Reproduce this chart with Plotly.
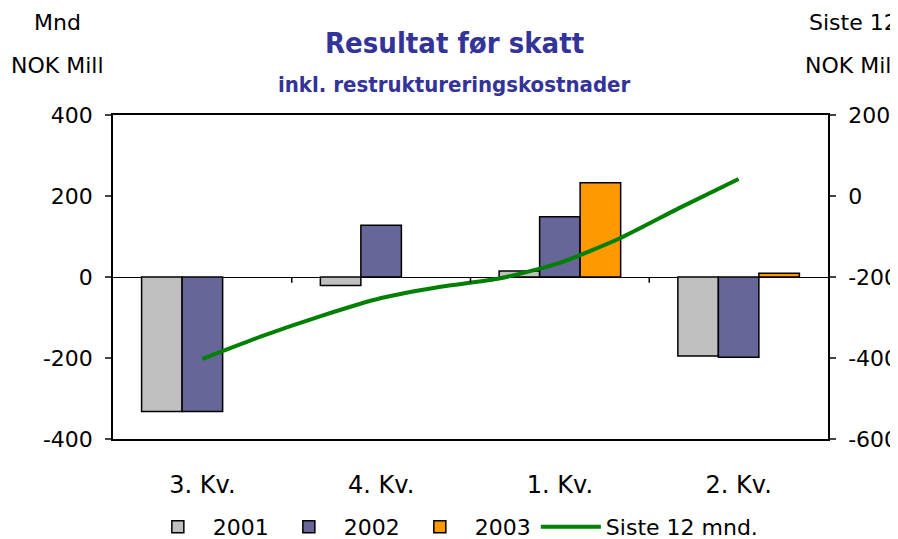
import plotly.graph_objects as go

quarters = ["3. Kv.", "4. Kv.", "1. Kv.", "2. Kv."]
vals_2001 = [-332, -21, 15, -195]
vals_2002 = [-332, 128, 149, -198]
vals_2003 = [None, None, 233, 9]

# rolling 12 months, one point per month from 3. Kv. to 2. Kv.
months = [0, 1, 2, 3, 4, 5, 6, 7, 8, 9]
siste_12 = [-402, -346, -296, -252, -224, -203, -165, -105, -30, 42]

left_ticks = [-400, -200, 0, 200, 400]
right_ticks = [-600, -400, -200, 0, 200]

FONT = "DejaVu Sans, sans-serif"
TITLE_FONT = "DejaVu Sans Condensed, DejaVu Sans, sans-serif"
TITLE_COLOR = "#333399"


def hyphen_labels(vals):
    # the original uses a plain hyphen for negatives
    return [str(v) for v in vals]


fig = go.Figure()
for name, vals, color in [
    ("2001", vals_2001, "#C0C0C0"),
    ("2002", vals_2002, "#666699"),
    ("2003", vals_2003, "#FF9900"),
]:
    fig.add_trace(
        go.Bar(
            x=quarters,
            y=vals,
            name=name,
            marker=dict(color=color, line=dict(color="black", width=1.5)),
        )
    )

fig.add_trace(
    go.Scatter(
        x=months,
        y=siste_12,
        name="Siste 12 mnd.",
        mode="lines",
        line=dict(color="#008000", width=4, shape="spline", smoothing=0.6),
        xaxis="x2",
        yaxis="y2",
    )
)

# small category separators on the zero line
for xb in [0.5, 1.5, 2.5]:
    fig.add_shape(
        type="line", xref="x", yref="y", x0=xb, x1=xb, y0=0, y1=-14,
        line=dict(color="black", width=1.5),
    )

axis_line = dict(showline=True, linecolor="black", linewidth=1.5, showgrid=False)

# the page adds an 8px body margin, so the margins are trimmed by that much
fig.update_layout(
    width=898,
    height=539,
    paper_bgcolor="white",
    plot_bgcolor="white",
    font=dict(family=FONT, color="black", size=22),
    margin=dict(l=105, r=78, t=107, b=108, autoexpand=False),
    barmode="group",
    bargap=0.32,
    bargroupgap=0,
    showlegend=True,
    legend=dict(
        orientation="h",
        x=0.476,
        xanchor="center",
        yref="container",
        y=0.037,
        yanchor="middle",
        font=dict(size=22),
        itemwidth=60,
        traceorder="normal",
    ),
    xaxis=dict(
        type="category",
        **axis_line,
        mirror=True,
        ticks="",
        zeroline=False,
        automargin=False,
        ticklabelstandoff=23,
        tickfont=dict(size=24),
    ),
    xaxis2=dict(
        overlaying="x",
        range=[-1.5, 10.5],
        visible=False,
    ),
    yaxis=dict(
        range=[-400, 400],
        tickvals=left_ticks,
        ticktext=hyphen_labels(left_ticks),
        **axis_line,
        ticks="outside",
        ticklen=6,
        tickwidth=1.5,
        zeroline=True,
        zerolinecolor="black",
        zerolinewidth=1,
        automargin=False,
        ticklabelstandoff=8,
        tickfont=dict(size=22),
    ),
    yaxis2=dict(
        range=[-600, 200],
        tickvals=right_ticks,
        ticktext=hyphen_labels(right_ticks),
        overlaying="y",
        side="right",
        **axis_line,
        ticks="outside",
        ticklen=6,
        tickwidth=1.5,
        zeroline=False,
        automargin=False,
        ticklabelstandoff=8,
        tickfont=dict(size=22),
    ),
    annotations=[
        dict(
            text="<b>Resultat før skatt</b>",
            xref="paper", yref="paper", x=0.477, y=1.223,
            xanchor="center", yanchor="middle", showarrow=False,
            font=dict(family=TITLE_FONT, size=29, color=TITLE_COLOR),
        ),
        dict(
            text="<b>inkl. restruktureringskostnader</b>",
            xref="paper", yref="paper", x=0.477, y=1.093,
            xanchor="center", yanchor="middle", showarrow=False,
            font=dict(family=TITLE_FONT, size=22, color=TITLE_COLOR),
        ),
        dict(
            text="Mnd", xref="paper", yref="paper", x=-0.077, y=1.284,
            xanchor="center", yanchor="middle", showarrow=False,
        ),
        dict(
            text="NOK Mill", xref="paper", yref="paper", x=-0.077, y=1.154,
            xanchor="center", yanchor="middle", showarrow=False,
        ),
        dict(
            text="Siste 12", xref="paper", yref="paper", x=0.971, y=1.284,
            xanchor="left", yanchor="middle", showarrow=False,
        ),
        dict(
            text="NOK Mill", xref="paper", yref="paper", x=0.965, y=1.154,
            xanchor="left", yanchor="middle", showarrow=False,
        ),
    ],
)

fig.write_html("out.html")
